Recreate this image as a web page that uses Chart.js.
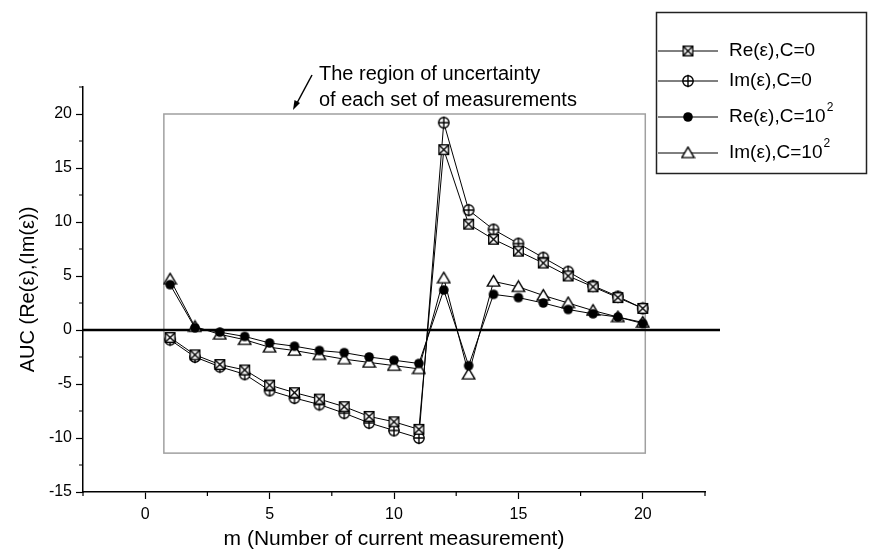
<!DOCTYPE html>
<html>
<head>
<meta charset="utf-8">
<script src="https://cdn.jsdelivr.net/npm/chart.js@4.4.0/dist/chart.umd.min.js"></script>
<style>
  html, body { margin: 0; padding: 0; background: #fff; }
  #wrap { width: 870px; height: 555px; }
</style>
</head>
<body>
<div id="wrap"><canvas id="aucChart" width="870" height="555"></canvas></div>
<script>
// measurement index m and AUC values of each series
const measurements = [1, 2, 3, 4, 5, 6, 7, 8, 9, 10, 11, 12, 13, 14, 15, 16, 17, 18, 19, 20];
const reC0   = [-0.7, -2.3, -3.2, -3.7, -5.1, -5.8, -6.4, -7.1, -8.0, -8.5, -9.2, 16.7, 9.8, 8.4, 7.3, 6.2, 5.0, 4.0, 3.0, 2.0];
const imC0   = [-0.9, -2.5, -3.4, -4.1, -5.6, -6.3, -6.9, -7.7, -8.6, -9.3, -10.0, 19.2, 11.1, 9.3, 8.0, 6.7, 5.4, 4.1, 3.1, 2.0];
const reC100 = [4.2, 0.2, -0.2, -0.6, -1.2, -1.5, -1.9, -2.1, -2.5, -2.8, -3.1, 3.7, -3.3, 3.3, 3.0, 2.5, 1.9, 1.5, 1.2, 0.6];
const imC100 = [4.7, 0.3, -0.4, -0.9, -1.6, -1.9, -2.3, -2.7, -3.0, -3.3, -3.6, 4.8, -4.1, 4.5, 4.0, 3.2, 2.5, 1.8, 1.2, 0.7];

const xTicks = [0, 5, 10, 15, 20];
const yTicks = [-15, -10, -5, 0, 5, 10, 15, 20];
const xMinorTicks = [-2.5, 2.5, 7.5, 12.5, 17.5, 22.5];
const yMinorTicks = [-12.5, -7.5, -2.5, 2.5, 7.5, 12.5, 17.5, 22.5];

// rectangle marking the uncertainty region, in data units
const uncertaintyBox = { xMin: 0.75, xMax: 20.1, yMin: -11.4, yMax: 20 };

const FONT = '"Liberation Sans", Arial, sans-serif';

function makeMarker(size, draw) {
    const c = document.createElement('canvas');
    c.width = size;
    c.height = size;
    const ctx = c.getContext('2d');
    ctx.strokeStyle = '#000';
    ctx.fillStyle = '#fff';
    ctx.lineWidth = 1.4;
    draw(ctx, size / 2);
    return c;
}

const boxCross = makeMarker(13, (ctx, m) => {
    const h = 4.8;
    ctx.fillRect(m - h, m - h, 2 * h, 2 * h);
    ctx.strokeRect(m - h, m - h, 2 * h, 2 * h);
    ctx.beginPath();
    ctx.moveTo(m - h, m - h); ctx.lineTo(m + h, m + h);
    ctx.moveTo(m + h, m - h); ctx.lineTo(m - h, m + h);
    ctx.stroke();
});

const circlePlus = makeMarker(14, (ctx, m) => {
    const r = 5.2;
    ctx.beginPath();
    ctx.arc(m, m, r, 0, Math.PI * 2);
    ctx.fill();
    ctx.stroke();
    ctx.beginPath();
    ctx.moveTo(m - r, m); ctx.lineTo(m + r, m);
    ctx.moveTo(m, m - r - 1); ctx.lineTo(m, m + r + 1);
    ctx.stroke();
});

const filledDot = makeMarker(12, (ctx, m) => {
    ctx.fillStyle = '#000';
    ctx.beginPath();
    ctx.arc(m, m, 4.8, 0, Math.PI * 2);
    ctx.fill();
});

const openTriangle = makeMarker(15, (ctx, m) => {
    ctx.beginPath();
    ctx.moveTo(m, m - 5.8);
    ctx.lineTo(m + 6.2, m + 4.6);
    ctx.lineTo(m - 6.2, m + 4.6);
    ctx.closePath();
    ctx.fill();
    ctx.stroke();
});

function toPoints(values) {
    return measurements.map((m, i) => ({ x: m, y: values[i] }));
}

const series = [
    { label: 'Re(ε),C=0', sup: '', values: reC0, marker: boxCross },
    { label: 'Im(ε),C=0', sup: '', values: imC0, marker: circlePlus },
    { label: 'Re(ε),C=10', sup: '2', values: reC100, marker: filledDot },
    { label: 'Im(ε),C=10', sup: '2', values: imC100, marker: openTriangle },
];

// zero line and uncertainty rectangle under the data
const backdropPlugin = {
    id: 'backdrop',
    beforeDatasetsDraw(chart) {
        const { ctx, scales: { x, y }, chartArea } = chart;
        ctx.save();
        ctx.strokeStyle = '#a0a0a0';
        ctx.lineWidth = 1.5;
        const bx = x.getPixelForValue(uncertaintyBox.xMin);
        const by = y.getPixelForValue(uncertaintyBox.yMax);
        ctx.strokeRect(bx, by,
            x.getPixelForValue(uncertaintyBox.xMax) - bx,
            y.getPixelForValue(uncertaintyBox.yMin) - by);

        const y0 = y.getPixelForValue(0);
        ctx.strokeStyle = '#000';
        ctx.lineWidth = 2.5;
        ctx.beginPath();
        ctx.moveTo(chartArea.left, y0);
        ctx.lineTo(chartArea.right + 15, y0);
        ctx.stroke();
        ctx.restore();
    },
};

// minor ticks, annotation text with arrow, legend box
const overlayPlugin = {
    id: 'overlay',
    afterDraw(chart) {
        const { ctx, scales: { x, y }, chartArea } = chart;
        ctx.save();
        ctx.strokeStyle = '#000';
        ctx.lineWidth = 1.2;
        ctx.beginPath();
        xMinorTicks.forEach(v => {
            const px = x.getPixelForValue(v);
            ctx.moveTo(px, chartArea.bottom);
            ctx.lineTo(px, chartArea.bottom + 4);
        });
        yMinorTicks.forEach(v => {
            const py = y.getPixelForValue(v);
            ctx.moveTo(chartArea.left, py);
            ctx.lineTo(chartArea.left - 4, py);
        });
        ctx.stroke();

        // annotation
        ctx.fillStyle = '#000';
        ctx.font = '20px ' + FONT;
        ctx.textAlign = 'left';
        ctx.textBaseline = 'middle';
        ctx.fillText('The region of uncertainty', 319, 74);
        ctx.fillText('of each set of measurements', 319, 100);

        ctx.lineWidth = 1.5;
        ctx.beginPath();
        ctx.moveTo(312, 75);
        ctx.lineTo(297, 103);
        ctx.stroke();
        ctx.beginPath();
        ctx.moveTo(293, 110);
        ctx.lineTo(294.5, 100);
        ctx.lineTo(300, 103);
        ctx.closePath();
        ctx.fill();

        // legend
        ctx.lineWidth = 1.5;
        ctx.strokeStyle = '#222';
        ctx.strokeRect(656.5, 12.5, 210, 161);
        const rows = [51, 81, 117, 153];
        series.forEach((s, i) => {
            const ry = rows[i];
            ctx.strokeStyle = '#000';
            ctx.lineWidth = 1;
            ctx.beginPath();
            ctx.moveTo(658, ry);
            ctx.lineTo(718, ry);
            ctx.stroke();
            ctx.drawImage(s.marker, 688 - s.marker.width / 2, ry - s.marker.height / 2);
            ctx.font = '19px ' + FONT;
            ctx.fillText(s.label, 729, ry);
            if (s.sup) {
                const w = ctx.measureText(s.label).width;
                ctx.font = '12px ' + FONT;
                ctx.fillText(s.sup, 729 + w + 1, ry - 9);
            }
        });
        ctx.restore();
    },
};

new Chart(document.getElementById('aucChart'), {
    type: 'line',
    data: {
        datasets: series.map(s => ({
            label: s.label + s.sup,
            data: toPoints(s.values),
            borderColor: '#000',
            borderWidth: 1,
            pointStyle: s.marker,
            tension: 0,
        })),
    },
    options: {
        responsive: false,
        animation: false,
        layout: { padding: { left: 0, right: 165, top: 87, bottom: 0 } },
        plugins: {
            legend: { display: false },
            tooltip: { enabled: false },
        },
        scales: {
            x: {
                type: 'linear',
                min: -2.5,
                max: 22.5,
                afterBuildTicks(scale) { scale.ticks = xTicks.map(v => ({ value: v })); },
                afterFit(scale) { scale.height = 63; },
                grid: { drawOnChartArea: false, drawTicks: true, tickLength: 7, color: '#000', tickWidth: 1.2 },
                border: { display: true, color: '#000', width: 1.5 },
                ticks: { color: '#000', padding: 6, maxRotation: 0, font: { family: FONT, size: 16 } },
                title: {
                    display: true,
                    text: 'm (Number of current measurement)',
                    color: '#000',
                    font: { family: FONT, size: 21 },
                    padding: { top: 0, bottom: 3 },
                },
            },
            y: {
                type: 'linear',
                min: -15,
                max: 22.5,
                afterBuildTicks(scale) { scale.ticks = yTicks.map(v => ({ value: v })); },
                afterFit(scale) { scale.width = 83; },
                grid: { drawOnChartArea: false, drawTicks: true, tickLength: 7, color: '#000', tickWidth: 1.2 },
                border: { display: true, color: '#000', width: 1.5 },
                ticks: { color: '#000', padding: 4, font: { family: FONT, size: 16 } },
                title: {
                    display: true,
                    text: 'AUC (Re(ε),(Im(ε))',
                    color: '#000',
                    font: { family: FONT, size: 20 },
                    padding: { top: 16, bottom: 0 },
                },
            },
        },
    },
    plugins: [backdropPlugin, overlayPlugin],
});
</script>
</body>
</html>
